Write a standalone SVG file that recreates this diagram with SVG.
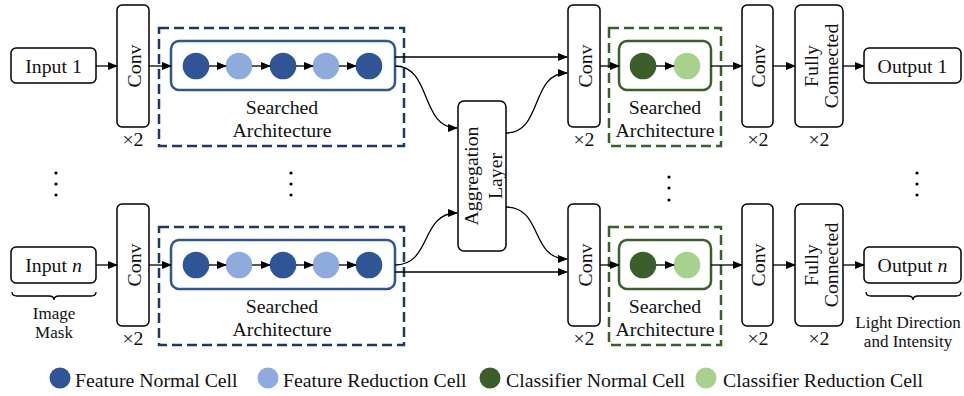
<svg xmlns="http://www.w3.org/2000/svg" width="964" height="396" viewBox="0 0 964 396">
<defs>
<marker id="ah" markerWidth="10" markerHeight="8" refX="9" refY="4" orient="auto" markerUnits="userSpaceOnUse">
<path d="M0,0 L10,4 L0,8 Z" fill="#000"/>
</marker>
<style>
text{font-family:"Liberation Serif","Times New Roman",serif;fill:#111;}
.t{font-size:19.8px;}
.s{font-size:17px;}
.mid{text-anchor:middle;}
.box{fill:#fff;stroke:#000;stroke-width:1.5;}
.dashB{fill:none;stroke:#203864;stroke-width:2.5;stroke-dasharray:10 5;}
.dashG{fill:none;stroke:#3B5E2B;stroke-width:2.5;stroke-dasharray:10 5;}
.inB{fill:#fff;stroke:#2F5597;stroke-width:2.5;}
.inG{fill:#fff;stroke:#3B5E2B;stroke-width:2.5;}
.c1{fill:#2F5597;}
.c2{fill:#8FAADC;}
.c3{fill:#3B5E2B;}
.c4{fill:#A9D18E;}
.ln{fill:none;stroke:#000;stroke-width:1.3;}
.ar{fill:none;stroke:#000;stroke-width:1.3;marker-end:url(#ah);}
.dot{fill:#000;}
</style>
</defs>

<!-- Row 1 -->
<g id="input1"><rect class="box" x="11" y="48" width="85" height="35" rx="5"/><text class="t mid" x="53.5" y="73">Input 1</text></g>
<g id="conv1a"><rect class="box" x="117" y="5" width="32" height="122" rx="5"/><text class="t mid" transform="translate(140.5,66) rotate(-90)">Conv</text><text class="t mid" x="133" y="146">×2</text></g>
<g id="search1a">
<rect class="dashB" x="159" y="28" width="245" height="118"/>
<rect class="inB" x="171" y="41" width="224" height="49" rx="8"/>
<circle class="c1" cx="196" cy="66" r="13.3"/><circle class="c2" cx="239" cy="66" r="13.3"/><circle class="c1" cx="283" cy="66" r="13.3"/><circle class="c2" cx="326" cy="66" r="13.3"/><circle class="c1" cx="369" cy="66" r="13.3"/>
<text class="t mid" x="282" y="114">Searched</text><text class="t mid" x="282" y="137">Architecture</text>
</g>
<g id="conv2a"><rect class="box" x="568" y="5" width="32" height="122" rx="5"/><text class="t mid" transform="translate(591.5,66) rotate(-90)">Conv</text><text class="t mid" x="584" y="146">×2</text></g>
<g id="search2a">
<rect class="dashG" x="609" y="28" width="112" height="118"/>
<rect class="inG" x="619" y="41" width="92" height="49" rx="8"/>
<circle class="c3" cx="643" cy="66" r="13.3"/><circle class="c4" cx="687" cy="66" r="13.3"/>
<text class="t mid" x="665" y="114">Searched</text><text class="t mid" x="665" y="137">Architecture</text>
</g>
<g id="conv3a"><rect class="box" x="742" y="5" width="31" height="122" rx="5"/><text class="t mid" transform="translate(765,66) rotate(-90)">Conv</text><text class="t mid" x="758" y="146">×2</text></g>
<g id="fc1"><rect class="box" x="795" y="5" width="48" height="122" rx="6"/><text class="t mid" transform="translate(818,66) rotate(-90)">Fully</text><text class="t mid" transform="translate(838,66) rotate(-90)">Connected</text><text class="t mid" x="819" y="146">×2</text></g>
<g id="output1"><rect class="box" x="864" y="48" width="97" height="35" rx="5"/><text class="t mid" x="912.5" y="73">Output 1</text></g>

<!-- Aggregation -->
<g id="aggregation"><rect class="box" x="458" y="101" width="48" height="150" rx="6"/><text class="t mid" transform="translate(478,176) rotate(-90)">Aggregation</text><text class="t mid" transform="translate(502,176) rotate(-90)">Layer</text></g>

<!-- Row n -->
<g id="inputn"><rect class="box" x="11" y="247" width="85" height="36" rx="5"/><text class="t mid" x="53.5" y="272">Input <tspan font-style="italic">n</tspan></text></g>
<g id="conv1b"><rect class="box" x="117" y="204" width="32" height="122" rx="5"/><text class="t mid" transform="translate(140.5,265) rotate(-90)">Conv</text><text class="t mid" x="133" y="345">×2</text></g>
<g id="search1b">
<rect class="dashB" x="159" y="227" width="245" height="118"/>
<rect class="inB" x="171" y="240" width="224" height="49" rx="8"/>
<circle class="c1" cx="196" cy="265" r="13.3"/><circle class="c2" cx="239" cy="265" r="13.3"/><circle class="c1" cx="283" cy="265" r="13.3"/><circle class="c2" cx="326" cy="265" r="13.3"/><circle class="c1" cx="369" cy="265" r="13.3"/>
<text class="t mid" x="282" y="313">Searched</text><text class="t mid" x="282" y="336">Architecture</text>
</g>
<g id="conv2b"><rect class="box" x="568" y="204" width="32" height="122" rx="5"/><text class="t mid" transform="translate(591.5,265) rotate(-90)">Conv</text><text class="t mid" x="584" y="345">×2</text></g>
<g id="search2b">
<rect class="dashG" x="609" y="227" width="112" height="118"/>
<rect class="inG" x="619" y="240" width="92" height="49" rx="8"/>
<circle class="c3" cx="643" cy="265" r="13.3"/><circle class="c4" cx="687" cy="265" r="13.3"/>
<text class="t mid" x="665" y="313">Searched</text><text class="t mid" x="665" y="336">Architecture</text>
</g>
<g id="conv3b"><rect class="box" x="742" y="204" width="31" height="122" rx="5"/><text class="t mid" transform="translate(765,265) rotate(-90)">Conv</text><text class="t mid" x="758" y="345">×2</text></g>
<g id="fcn"><rect class="box" x="795" y="204" width="48" height="122" rx="6"/><text class="t mid" transform="translate(818,265) rotate(-90)">Fully</text><text class="t mid" transform="translate(838,265) rotate(-90)">Connected</text><text class="t mid" x="819" y="345">×2</text></g>
<g id="outputn"><rect class="box" x="864" y="247" width="97" height="36" rx="5"/><text class="t mid" x="912.5" y="272">Output <tspan font-style="italic">n</tspan></text></g>

<!-- annotations -->
<g id="mask-label">
<path class="ln" d="M12,292 q0,4 5,4 L49,296 q5,0 5,4 q0,-4 5,-4 L91,296 q5,0 5,-4"/>
<text class="s mid" x="54" y="319">Image</text><text class="s mid" x="54" y="338">Mask</text>
</g>
<g id="light-label">
<path class="ln" d="M866,292 q0,4 5,4 L908,296 q5,0 5,4 q0,-4 5,-4 L956,296 q5,0 5,-4"/>
<text class="s mid" x="908" y="328">Light Direction</text><text class="s mid" x="908" y="347">and Intensity</text>
</g>
<g id="dots">
<circle class="dot" cx="56" cy="173" r="1.6"/><circle class="dot" cx="56" cy="184" r="1.6"/><circle class="dot" cx="56" cy="195" r="1.6"/>
<circle class="dot" cx="291" cy="173" r="1.6"/><circle class="dot" cx="291" cy="184" r="1.6"/><circle class="dot" cx="291" cy="195" r="1.6"/>
<circle class="dot" cx="669" cy="177" r="1.6"/><circle class="dot" cx="669" cy="188" r="1.6"/><circle class="dot" cx="669" cy="200" r="1.6"/>
<circle class="dot" cx="917" cy="173" r="1.6"/><circle class="dot" cx="917" cy="184" r="1.6"/><circle class="dot" cx="917" cy="195" r="1.6"/>
</g>

<!-- connectors -->
<g id="connectors">
<path class="ar" d="M96,66 L117,66"/>
<path class="ar" d="M149,66 L171,66"/>
<path class="ar" d="M209,66 L226,66"/><path class="ar" d="M252,66 L270,66"/><path class="ar" d="M296,66 L313,66"/><path class="ar" d="M339,66 L356,66"/>
<path class="ar" d="M395,57 L567,57"/>
<path class="ar" d="M395,66 C432,66 420,128 457,128"/>
<path class="ar" d="M506,133 C543,133 530,73 567,73"/>
<path class="ar" d="M600,66 L619,66"/>
<path class="ar" d="M656,66 L674,66"/>
<path class="ar" d="M711,66 L742,66"/>
<path class="ar" d="M773,66 L795,66"/>
<path class="ar" d="M843,66 L864,66"/>

<path class="ar" d="M96,265 L117,265"/>
<path class="ar" d="M149,265 L171,265"/>
<path class="ar" d="M209,265 L226,265"/><path class="ar" d="M252,265 L270,265"/><path class="ar" d="M296,265 L313,265"/><path class="ar" d="M339,265 L356,265"/>
<path class="ar" d="M395,272 L567,272"/>
<path class="ar" d="M395,265 C432,265 420,213 457,213"/>
<path class="ar" d="M506,207 C543,207 530,259 567,259"/>
<path class="ar" d="M600,265 L619,265"/>
<path class="ar" d="M656,265 L674,265"/>
<path class="ar" d="M711,265 L742,265"/>
<path class="ar" d="M773,265 L795,265"/>
<path class="ar" d="M843,265 L864,265"/>
</g>

<!-- legend -->
<g id="legend">
<circle class="c1" cx="60" cy="378" r="10.5"/><text class="t" x="75" y="387">Feature Normal Cell</text>
<circle class="c2" cx="268" cy="378" r="10.5"/><text class="t" x="283" y="387">Feature Reduction Cell</text>
<circle class="c3" cx="490" cy="378" r="10.5"/><text class="t" x="506" y="387">Classifier Normal Cell</text>
<circle class="c4" cx="706" cy="378" r="10.5"/><text class="t" x="723" y="387">Classifier Reduction Cell</text>
</g>
</svg>
